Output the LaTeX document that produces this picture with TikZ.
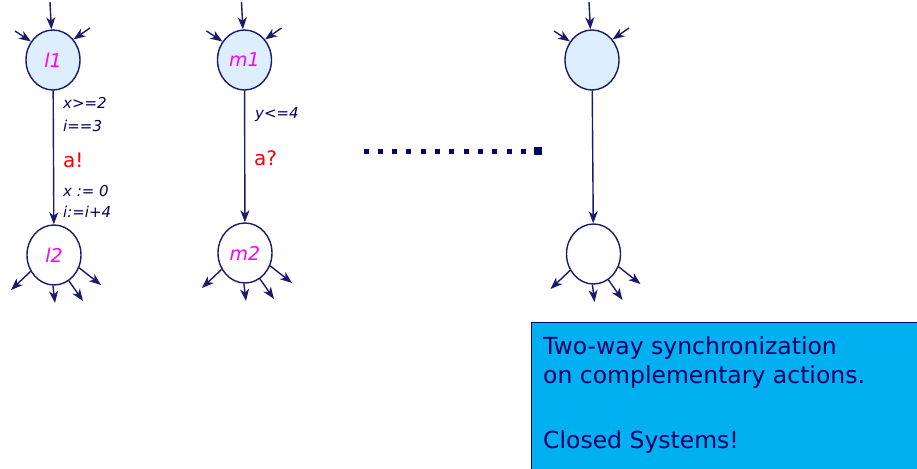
\documentclass[tikz,border=0pt]{standalone}
\usepackage{fontspec}
\setmainfont{DejaVu Sans}
\usetikzlibrary{arrows.meta,shapes.geometric}
\definecolor{navy}{HTML}{1A1A6E}
\definecolor{txtnavy}{HTML}{000066}
\definecolor{locfill}{HTML}{DDEEFF}
\definecolor{notefill}{HTML}{00B0F0}
\definecolor{locname}{HTML}{FF00FF}
\tikzset{
  loc/.style={ellipse,draw=navy,line width=1.4pt,minimum width=54pt,minimum height=60pt,inner sep=0pt,
    font=\fontsize{19pt}{21pt}\selectfont\itshape,text=locname},
  initloc/.style={loc,fill=locfill},
  arr/.style={draw=navy,line width=1.4pt,-{Stealth[length=12pt,width=9pt,inset=3.5pt]}},
  guard/.style={font=\fontsize{15pt}{17pt}\selectfont\itshape,text=txtnavy,anchor=west,inner sep=0pt},
  syncl/.style={font=\fontsize{20pt}{22pt}\selectfont,text=red,anchor=west,inner sep=0pt},
  dot/.style={fill=txtnavy,draw=none,minimum size=5pt,inner sep=0pt,rectangle},
  notetxt/.style={anchor=base west,inner sep=0pt,text=txtnavy,font=\fontsize{23.5pt}{28pt}\selectfont},
}
\begin{document}
\begin{tikzpicture}[x=1pt,y=-1pt]
\useasboundingbox (0,0) rectangle (917,468);

% locations of the three automata
\node[initloc] (l1) at (53,60) {l1};
\node[loc] (l2) at (54,255) {l2};
\node[initloc] (m1) at (244.5,60) {m1};
\node[loc] (m2) at (245,253) {m2};
\node[initloc] (n1) at (592,60) {};
\node[loc] (n2) at (593.5,254) {};

% incoming and outgoing stubs
\foreach \s in {l1,m1,n1}{
  \coordinate (\s-it) at ([shift={(-3,-58)}]\s.center);
  \coordinate (\s-il) at ([shift={(-38,-29)}]\s.center);
  \coordinate (\s-ir) at ([shift={(37,-32)}]\s.center);
  \draw[arr] (\s-it) -- (\s.93);
  \draw[arr] (\s-il) -- (\s.140);
  \draw[arr] (\s-ir) -- (\s.45);
}
\foreach \s in {l2,m2,n2}{
  \coordinate (\s-o1) at ([shift={(-43,35)}]\s.center);
  \coordinate (\s-o2) at ([shift={(1,48)}]\s.center);
  \coordinate (\s-o3) at ([shift={(29,46)}]\s.center);
  \coordinate (\s-o4) at ([shift={(47,30)}]\s.center);
  \draw[arr] (\s.215) -- (\s-o1);
  \draw[arr] (\s.268) -- (\s-o2);
  \draw[arr] (\s.300) -- (\s-o3);
  \draw[arr] (\s.333) -- (\s-o4);
}

% synchronising edges
\draw[arr] (l1) -- (l2);
\draw[arr] (m1) -- (m2);
\draw[arr] (n1) -- (n2);

% edge labels
\node[guard] (g1) at (63,103) {x>=2};
\node[guard] (g2) at (63,126) {i==3};
\node[syncl] (s1) at (63,160) {a!};
\node[guard] (u1) at (63,191) {x := 0};
\node[guard] (u2) at (63,212) {i:=i+4};
\node[guard] (g3) at (255,115) {y<=4};
\node[syncl] (s2) at (254,158) {a?};

% ellipsis between the automata
\foreach \i in {0,...,11}{
  \node[dot] (d\i) at (366+\i*14.3,151) {};
}
\node[dot,minimum size=8pt] (dend) at (538,151) {};

% note box
\node[draw=txtnavy,line width=0.8pt,fill=notefill,anchor=north west,minimum width=400pt,minimum height=160pt,inner sep=0pt] (note) at (531,322) {};
\node[notetxt] (note1) at (543,354) {Two-way synchronization};
\node[notetxt] (note2) at (543,383) {on complementary actions.};
\node[notetxt] (note3) at (543,448) {Closed Systems!};
\end{tikzpicture}
\end{document}
